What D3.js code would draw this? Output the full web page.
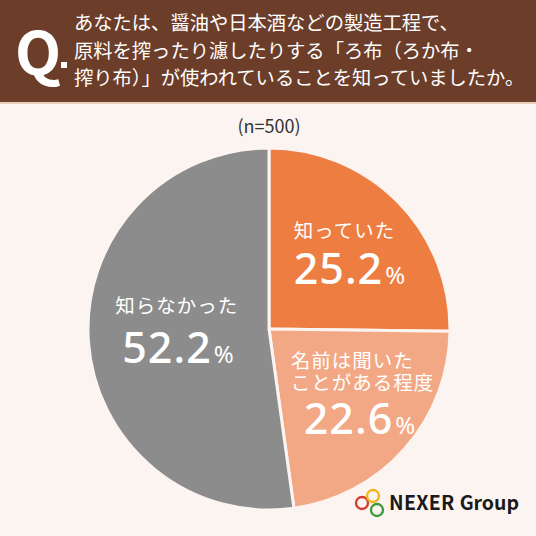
<!DOCTYPE html>
<html lang="ja">
<head>
<meta charset="utf-8">
<title>ろ布 認知度</title>
<script src="https://cdn.jsdelivr.net/npm/d3@7/dist/d3.min.js"></script>
<style>
  html, body { margin: 0; padding: 0; background: #fcf4f0; }
  svg { display: block; }
  text { font-family: "Noto Sans CJK JP", "Noto Sans", sans-serif; }
</style>
</head>
<body>
<div id="chart"></div>
<script>
// question text and sample size
var questionLines = [
  "あなたは、醤油や日本酒などの製造工程で、",
  "原料を搾ったり濾したりする「ろ布（ろか布・",
  "搾り布）」が使われていることを知っていましたか。"
];
var sampleLabel = "(n=500)";

// slices, clockwise from 12 o'clock
var categories = ["知っていた", "名前は聞いたことがある程度", "知らなかった"];
var labelLines = [["知っていた"], ["名前は聞いた", "ことがある程度"], ["知らなかった"]];
var values = [25.2, 22.6, 52.2];
var colors = ["#ee7d42", "#f2a885", "#8c8c8c"];

var W = 536, H = 536;
var cx = 269, cy = 329, R = 181;

var svg = d3.select("#chart").append("svg")
  .attr("width", W).attr("height", H);

svg.append("rect").attr("width", W).attr("height", H).attr("fill", "#fcf4f0");

// header band
svg.append("rect").attr("x", 0).attr("y", 0).attr("width", W).attr("height", 102)
  .attr("fill", "#6c3e2a");
svg.append("rect").attr("x", 0).attr("y", 102).attr("width", W).attr("height", 2)
  .attr("fill", "#e9cdbd");

svg.append("text").attr("x", 15).attr("y", 75)
  .attr("font-family", "'Noto Sans', sans-serif")
  .attr("font-size", 60).attr("font-weight", 600).attr("fill", "#fff")
  .text("Q");
svg.append("rect").attr("x", 61).attr("y", 62).attr("width", 6).attr("height", 6)
  .attr("fill", "#fff");

// question as one text block
var qText = svg.append("text").attr("font-size", 19.3).attr("fill", "#fff");
qText.selectAll("tspan").data(questionLines).enter().append("tspan")
  .attr("x", 74)
  .attr("y", function(d, i) { return 30 + i * 27.5; })
  .text(function(d) { return d; });

svg.append("text").attr("x", cx).attr("y", 133)
  .attr("text-anchor", "middle")
  .attr("font-family", "'Noto Sans', sans-serif")
  .attr("font-size", 18).attr("fill", "#333")
  .text(sampleLabel);

// pie
var pie = d3.pie().sort(null).value(function(d) { return d; });
var arcs = pie(values);
var arc = d3.arc().innerRadius(0).outerRadius(R);
var labelArc = d3.arc().innerRadius(0).outerRadius(R * 1.16);

var g = svg.append("g").attr("transform", "translate(" + cx + "," + cy + ")");

g.selectAll("path.slice").data(arcs).enter().append("path")
  .attr("class", "slice")
  .attr("d", arc)
  .attr("fill", function(d, i) { return colors[i]; })
  .attr("stroke", "#fcf4f0")
  .attr("stroke-width", 3)
  .attr("stroke-linejoin", "round");

// label placement tweaks relative to centroid (layout only)
var nudge = [
  { dx: -50, dy: -17, numDx: 0, numDy: 46 },
  { dx: -57, dy: -30, numDx: 13, numDy: 44 },
  { dx: -49, dy: -23, numDx: 7, numDy: 50 }
];
var lineH = 22;

// one text per slice: name lines + value
var labels = g.selectAll("text.lab").data(arcs).enter().append("text")
  .attr("class", "lab")
  .attr("fill", "#fff")
  .attr("transform", function(d, i) {
    var c = labelArc.centroid(d);
    return "translate(" + (c[0] + nudge[i].dx) + "," + (c[1] + nudge[i].dy) + ")";
  });

labels.each(function(d, i) {
  var sel = d3.select(this);
  var lines = labelLines[i];
  lines.forEach(function(t, k) {
    sel.append("tspan").attr("x", 0).attr("y", k * lineH)
      .attr("font-size", 19.5).attr("letter-spacing", 1)
      .text(t);
  });
  sel.append("tspan")
    .attr("x", nudge[i].numDx)
    .attr("y", (lines.length - 1) * lineH + nudge[i].numDy)
    .attr("font-family", "'Noto Sans', sans-serif")
    .attr("font-size", 43).attr("font-weight", 500)
    .attr("letter-spacing", 1)
    .text(d3.format(".1f")(values[i]));
  sel.append("tspan").attr("font-size", 24).attr("dx", 2)
    .attr("font-family", "'Noto Sans', sans-serif")
    .text("%");
});

// logo
var logo = svg.append("g");
var rings = [
  { x: 362, y: 503, c: "#d63a2f" },
  { x: 373, y: 496, c: "#f0b41c" },
  { x: 377, y: 510, c: "#3c9a3d" }
];
logo.selectAll("circle").data(rings).enter().append("circle")
  .attr("cx", function(d) { return d.x; })
  .attr("cy", function(d) { return d.y; })
  .attr("r", 6)
  .attr("fill", "none")
  .attr("stroke", function(d) { return d.c; })
  .attr("stroke-width", 2.3);
var lt = logo.append("text").attr("x", 389).attr("y", 510)
  .attr("font-family", "'Noto Sans', sans-serif")
  .attr("fill", "#1a1a1a").attr("font-weight", 700);
lt.append("tspan").attr("font-size", 19.5).attr("letter-spacing", 0.3).text("NEXER");
lt.append("tspan").attr("font-size", 19.5).attr("font-weight", 600).attr("dx", 5).text("Group");
</script>
</body>
</html>
